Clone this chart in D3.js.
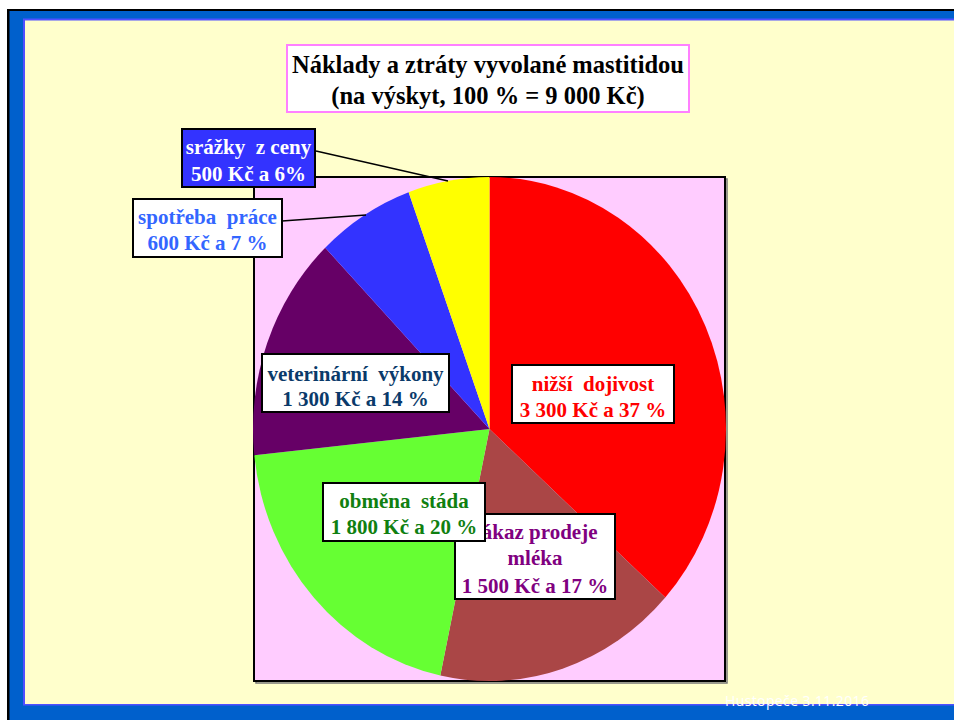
<!DOCTYPE html>
<html><head><meta charset="utf-8">
<script src="https://cdn.jsdelivr.net/npm/d3@7"></script>
<style>
html,body{margin:0;padding:0;background:#fff;}
svg text{font-family:"Liberation Serif","Times New Roman",serif;font-weight:bold;white-space:pre;}
</style></head>
<body>
<svg id="chart" width="954" height="720"></svg>
<script>
// ---- data ----
const categories = ["nižší dojivost","zákaz prodeje mléka","obměna stáda","veterinární výkony","spotřeba práce","srážky z ceny"];
const valuesKc = [3300,1500,1800,1300,600,500];
const percentLabels = ["37 %","17 %","20 %","14 %","7 %","6%"];
const amountLabels = ["3 300 Kč","1 500 Kč","1 800 Kč","1 300 Kč","600 Kč","500 Kč"];
const sliceColors = ["#FF0000","#AA4646","#66FF33","#660066","#3333FF","#FFFF00"];
const labelTextColors = ["#FF0000","#800080","#108010","#0A3A6A","#3366FF","#FFFFFF"];
const labelFills = ["#FFFFFF","#FFFFFF","#FFFFFF","#FFFFFF","#FFFFFF","#3333FF"];
const titleLines = ["Náklady a ztráty vyvolané mastitidou","(na výskyt, 100 % = 9 000 Kč)"];
const footerText = "Hustopeče 3.11.2016";

// ---- layout ----
const svg = d3.select("#chart");
// frame
svg.append("rect").attr("x",7).attr("y",9).attr("width",960).attr("height",720).attr("fill","#000");
svg.append("rect").attr("x",9.5).attr("y",11).attr("width",960).attr("height",720).attr("fill","#0060CC");
svg.append("rect").attr("x",23).attr("y",18.5).attr("width",940).attr("height",687).attr("fill","#5050FF");
svg.append("rect").attr("x",25).attr("y",20.5).attr("width",940).attr("height",683.5).attr("fill","#FFFFCC");

// plot area
const plot = {x:254,y:177,w:471,h:504};
svg.append("rect").attr("x",plot.x+2).attr("y",plot.y+2).attr("width",plot.w).attr("height",plot.h)
  .attr("fill","none").attr("stroke","#777").attr("stroke-width",1.5);
svg.append("rect").attr("x",plot.x).attr("y",plot.y).attr("width",plot.w).attr("height",plot.h)
  .attr("fill","#FFCCFF").attr("stroke","#000").attr("stroke-width",2);

// pie (elliptical)
const cx = 489.5, cy = 429, rx = 236.5, ry = 252;
const pie = d3.pie().sort(null).value(d=>d)(valuesKc);
const arc = d3.arc().innerRadius(0).outerRadius(ry);
svg.append("g").attr("transform",`translate(${cx},${cy}) scale(${rx/ry},1)`)
  .selectAll("path").data(pie).join("path")
  .attr("d",arc).attr("fill",(d,i)=>sliceColors[i]);

// leader lines
const leaders = [
  {i:5, x1:316, y1:151, x2:448, y2:181},
  {i:4, x1:282, y1:221, x2:366, y2:215}
];
svg.selectAll("line.leader").data(leaders).join("line").attr("class","leader")
  .attr("x1",d=>d.x1).attr("y1",d=>d.y1).attr("x2",d=>d.x2).attr("y2",d=>d.y2)
  .attr("stroke","#000").attr("stroke-width",1.3);

// labels: draw order so "obměna stáda" overlaps "zákaz prodeje"
const labelBoxes = [
  {i:1, x:455, y:514, w:160, h:85, lines:["zákaz prodeje","mléka", amountLabels[1]+" a "+percentLabels[1]], base:[539,565,593]},
  {i:2, x:323, y:483, w:162, h:58, lines:["obměna  stáda", amountLabels[2]+" a "+percentLabels[2]], base:[508,534]},
  {i:0, x:512, y:365, w:162, h:58, lines:["nižší  dojivost", amountLabels[0]+" a "+percentLabels[0]], base:[391,417]},
  {i:3, x:262, y:354, w:187, h:58, lines:["veterinární  výkony", amountLabels[3]+" a "+percentLabels[3]], base:[381,406]},
  {i:4, x:133, y:199, w:149, h:58, lines:["spotřeba  práce", amountLabels[4]+" a "+percentLabels[4]], base:[224,250]},
  {i:5, x:182, y:129, w:133, h:58, lines:["srážky  z ceny", amountLabels[5]+" a "+percentLabels[5]], base:[154,181]}
];
labelBoxes.forEach(b=>{
  const g = svg.append("g");
  g.append("rect").attr("x",b.x).attr("y",b.y).attr("width",b.w).attr("height",b.h)
    .attr("fill",labelFills[b.i]).attr("stroke","#000").attr("stroke-width",2);
  b.lines.forEach((t,k)=>{
    g.append("text").attr("x",b.x+b.w/2).attr("y",b.base[k]).attr("text-anchor","middle")
      .attr("font-size",21).attr("fill",labelTextColors[b.i]).text(t);
  });
});

// title
svg.append("rect").attr("x",287).attr("y",45).attr("width",402).attr("height",67)
  .attr("fill","#FFFFFF").attr("stroke","#FF80FF").attr("stroke-width",2);
svg.selectAll("text.title").data(titleLines).join("text").attr("class","title")
  .attr("x",488).attr("y",(d,i)=>73+i*31).attr("text-anchor","middle")
  .attr("font-size",24.5).attr("fill","#000").text(d=>d);

// footer
svg.append("text").attr("x",725).attr("y",706).attr("font-size",14)
  .style("font-family","'Open Sans','DejaVu Sans',sans-serif").style("font-weight","normal")
  .attr("fill","#FFFFFF").attr("textLength",144).text(footerText);
</script>
</body></html>
